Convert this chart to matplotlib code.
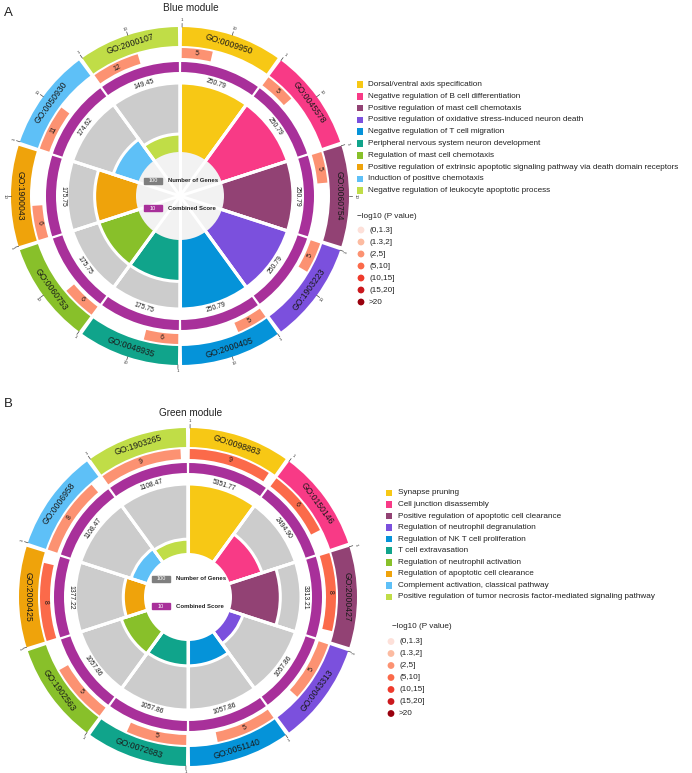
import numpy as np
import matplotlib
matplotlib.use("Agg")
import matplotlib.pyplot as plt

plt.rcParams['font.family'] = ['Liberation Sans', 'DejaVu Sans']

W, H = 692, 773

# ---------------- data ----------------
term_colors = ["#F7C815", "#F83A86", "#924274", "#7B50DD", "#0593D9",
               "#10A48B", "#88C02A", "#EFA30B", "#5EC0F7", "#C0DD47"]
pval_labels = ["(0,1.3]", "(1.3,2]", "(2,5]", "(5,10]", "(10,15]", "(15,20]", ">20"]
pval_colors = ["#FDE0D9", "#FCBBA1", "#FC9272", "#FB6A4A", "#EF3B2C", "#CB181D", "#99000D"]

go_a = ["GO:0009950", "GO:0045578", "GO:0060754", "GO:1903223", "GO:2000405",
        "GO:0048935", "GO:0060753", "GO:1900043", "GO:0050930", "GO:2000107"]
desc_a = ["Dorsal/ventral axis specification",
          "Negative regulation of B cell differentiation",
          "Positive regulation of mast cell chemotaxis",
          "Positive regulation of oxidative stress-induced neuron death",
          "Negative regulation of T cell migration",
          "Peripheral nervous system neuron development",
          "Regulation of mast cell chemotaxis",
          "Positive regulation of extrinsic apoptotic signaling pathway via death domain receptors",
          "Induction of positive chemotaxis",
          "Negative regulation of leukocyte apoptotic process"]
count_a = [5, 5, 5, 5, 5, 6, 6, 6, 11, 12]
score_a = [250.79, 250.79, 250.79, 250.79, 250.79, 175.75, 175.75, 175.75, 174.62, 149.45]
pcat_a = [2, 2, 2, 2, 2, 2, 2, 2, 2, 2]
inner_a = [1.0, 1.0, 1.0, 1.0, 1.0, 0.60, 0.60, 0.60, 0.38, 0.26]

go_b = ["GO:0098883", "GO:0150146", "GO:2000427", "GO:0043313", "GO:0051140",
        "GO:0072683", "GO:1902563", "GO:2000425", "GO:0006958", "GO:1903265"]
desc_b = ["Synapse pruning",
          "Cell junction disassembly",
          "Positive regulation of apoptotic cell clearance",
          "Regulation of neutrophil degranulation",
          "Regulation of NK T cell proliferation",
          "T cell extravasation",
          "Regulation of neutrophil activation",
          "Regulation of apoptotic cell clearance",
          "Complement activation, classical pathway",
          "Positive regulation of tumor necrosis factor-mediated signaling pathway"]
count_b = [9, 6, 8, 5, 5, 5, 5, 8, 8, 9]
score_b = [5351.77, 2494.90, 3313.21, 1057.86, 1057.86, 1057.86, 1057.86, 1377.22, 1108.47, 1108.47]
pcat_b = [3, 3, 3, 2, 2, 2, 2, 3, 2, 2]
inner_b = [1.0, 0.49, 0.70, 0.20, 0.36, 0.36, 0.38, 0.30, 0.23, 0.20]

PURPLE = "#A8309A"
GRAY = "#CCCCCC"


def text_rot(tdeg):
    t = tdeg % 360
    if 90 < t <= 270:
        return 180 - t
    return -t


def draw_panel(fig, cx, cy, go, count, score, pcat, inner, logmax, mid_tick, center_col):
    RMAX = 184
    ax = fig.add_axes([(cx - RMAX) / W, (H - cy - RMAX) / H, 2 * RMAX / W, 2 * RMAX / H],
                      projection='polar')
    ax.set_theta_zero_location('N')
    ax.set_theta_direction(-1)
    ax.set_ylim(0, RMAX)
    ax.axis('off')
    n = len(go)
    sec = 2 * np.pi / n
    starts = np.arange(n) * sec
    centers = starts + sec / 2
    gap_o = np.deg2rad(1.4)
    gap_i = np.deg2rad(1.0)

    r0, r1 = 44, 113
    # background wedges
    ax.bar(centers, [r1] * n, width=sec, bottom=0, color=GRAY, edgecolor='white', linewidth=2.2, zorder=1)
    heights = [r0 + v * (r1 - r0) for v in inner]
    ax.bar(centers, heights, width=sec, bottom=0, color=term_colors, edgecolor='white', linewidth=2.2, zorder=2)
    ax.bar([0], [r0], width=2 * np.pi, bottom=0, color=center_col, edgecolor='none', zorder=3)
    for s in starts:
        ax.plot([s, s], [0, r1 + 1], color='white', lw=2.2, zorder=4, solid_capstyle='butt')
    # combined score ring
    ax.bar(centers, [10] * n, width=sec - gap_i, bottom=124, color=PURPLE, edgecolor='none', zorder=2)
    # gene count bars (log scale)
    fr = [np.log10(c) / logmax for c in count]
    ax.bar(starts + gap_o / 2, [10] * n, width=[f * (sec - gap_o) for f in fr], bottom=138,
           align='edge', color=[pval_colors[k] for k in pcat], edgecolor='none', zorder=2)
    # outer GO ring
    ax.bar(centers, [19] * n, width=sec - gap_o, bottom=150, color=term_colors, edgecolor='none', zorder=2)

    for i in range(n):
        tc = np.rad2deg(centers[i])
        ax.text(centers[i], 159.5, go[i], rotation=text_rot(tc), rotation_mode='anchor',
                ha='center', va='center', fontsize=6.2, color='#1a1a1a', zorder=5)
        ax.text(centers[i], 117.5, "%.2f" % score[i], rotation=text_rot(tc), rotation_mode='anchor',
                ha='center', va='center', fontsize=4.9, color='#1a1a1a', zorder=5)
        bc = starts[i] + gap_o / 2 + fr[i] * (sec - gap_o) / 2
        ax.text(bc, 142.8, str(count[i]), rotation=text_rot(np.rad2deg(bc)), rotation_mode='anchor',
                ha='center', va='center', fontsize=5, color='#1a1a1a', zorder=5)
        # ticks
        ticks = [(1, starts[i] + gap_o / 2)]
        if mid_tick:
            ticks.append((10, starts[i] + gap_o / 2 + (np.log10(10) / logmax) * (sec - gap_o)))
        for lab, th in ticks:
            ax.plot([th, th], [169, 172.5], color='#444444', lw=0.5, zorder=5)
            ax.text(th, 175.5, str(lab), rotation=text_rot(np.rad2deg(th)), rotation_mode='anchor',
                    ha='center', va='center', fontsize=3.2, color='#333333', zorder=5)
    return ax


fig = plt.figure(figsize=(W / 100, H / 100), dpi=100)

draw_panel(fig, 180, 196, go_a, count_a, score_a, pcat_a, inner_a, 2.0, True, "#F2F2F2")
draw_panel(fig, 188, 597, go_b, count_b, score_b, pcat_b, inner_b, 1.02, False, "white")

ov = fig.add_axes([0, 0, 1, 1], zorder=10)
ov.set_xlim(0, W)
ov.set_ylim(H, 0)
ov.axis('off')

# titles and panel letters
ov.text(191, 8, "Blue module", ha='center', va='center', fontsize=7.2, color='#222222')
ov.text(191, 413, "Green module", ha='center', va='center', fontsize=7.2, color='#222222')
ov.text(4, 13, "A", ha='left', va='center', fontsize=9.5, color='#222222')
ov.text(4, 404, "B", ha='left', va='center', fontsize=9.5, color='#222222')

# center legends
for (cx, cy, ya, yb) in [(180, 196, 181, 208), (188, 597, 579, 606)]:
    for y, col, num, lab in [(ya, "#7F7F7F", "100", "Number of Genes"), (yb, PURPLE, "10", "Combined Score")]:
        ov.add_patch(plt.Rectangle((cx - 36, y - 3.2), 18, 6.4, color=col, zorder=11))
        ov.text(cx - 27, y, num, ha='center', va='center', fontsize=4, color='white', zorder=12)
        ov.text(cx - 12, y, lab, ha='left', va='center', fontsize=4.3, fontweight='bold',
                color='#222222', zorder=12)

FS = 5.9


# term legends
def term_legend(x0, y0, dy, descs):
    ys = [y0 + i * dy for i in range(len(descs))]
    ov.scatter([x0] * len(descs), ys, marker='s', s=22, c=term_colors, linewidths=0)
    for y, d in zip(ys, descs):
        ov.text(x0 + 8.5, y, d, ha='left', va='center', fontsize=FS, color='#222222')


def p_legend(x0, xt, ytitle, y0, dy):
    ov.text(xt, ytitle, "\u2212log10 (P value)", ha='left', va='center', fontsize=FS, color='#222222')
    ys = [y0 + i * dy for i in range(len(pval_labels))]
    ov.scatter([x0] * len(ys), ys, marker='o', s=24, c=pval_colors, linewidths=0)
    for y, t in zip(ys, pval_labels):
        ov.text(x0 + 8, y, t, ha='left', va='center', fontsize=FS, color='#222222')


term_legend(360, 84.5, 11.8, desc_a)
p_legend(361, 357, 216, 230, 12.0)
term_legend(389, 493, 11.55, desc_b)
p_legend(391, 391.5, 627, 641.5, 12.0)

fig.savefig("out.png", dpi=100)
